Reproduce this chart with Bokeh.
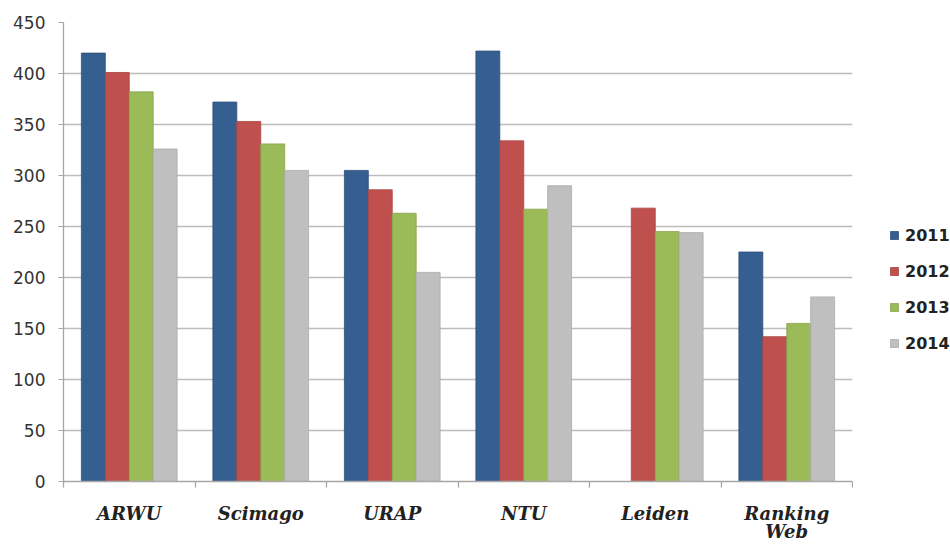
from bokeh.plotting import figure
from bokeh.layouts import row
from bokeh.models import (ColumnDataSource, Range1d, LinearAxis, FixedTicker, Legend, LegendItem)
from bokeh.embed import file_html
from bokeh.resources import INLINE

categories = ["ARWU", "Scimago", "URAP", "NTU", "Leiden", "Ranking\nWeb"]
years = ["2011", "2012", "2013", "2014"]
v2011 = [420, 372, 305, 422, float("nan"), 225]
v2012 = [401, 353, 286, 334, 268, 142]
v2013 = [382, 331, 263, 267, 245, 155]
v2014 = [326, 305, 205, 290, 244, 181]
colors = ["#365F91", "#C0504D", "#9BBB59", "#BFBFBF"]
edges = ["#2C4F7A", "#A84440", "#86A24B", "#ABABAB"]
y_ticks = [0, 50, 100, 150, 200, 250, 300, 350, 400, 450]

n = len(categories)
centers = [i + 0.5 for i in range(n)]
bounds = list(range(n + 1))
series = {"2011": v2011, "2012": v2012, "2013": v2013, "2014": v2014}

p = figure(width=853, height=545, x_range=Range1d(0, n), y_range=Range1d(0, 450),
           output_backend="svg", toolbar_location=None,
           x_axis_location=None, min_border_left=63, min_border_right=1,
           min_border_top=22, min_border_bottom=64)
p.outline_line_color = None
p.background_fill_color = "white"
p.border_fill_color = "white"

bw = 0.182
offsets = [-1.5 * bw, -0.5 * bw, 0.5 * bw, 1.5 * bw]
for yr, off, c, e in zip(years, offsets, colors, edges):
    src = ColumnDataSource(dict(x=[cx + off for cx in centers], top=series[yr]))
    p.vbar(x="x", top="top", width=bw, source=src,
           fill_color=c, line_color=e, line_width=0.8)

# y axis
yax = p.yaxis[0]
yax.ticker = FixedTicker(ticks=y_ticks)
yax.axis_line_color = "#A6A6A6"
yax.axis_line_width = 1.3
yax.major_tick_line_color = "#A6A6A6"
yax.major_tick_out = 5
yax.major_tick_in = 0
yax.minor_tick_line_color = None
yax.major_label_text_font = "DejaVu Sans"
yax.major_label_text_font_size = "17px"
yax.major_label_text_color = "#333333"
yax.major_label_standoff = 13

p.xgrid.grid_line_color = None
p.ygrid.ticker = FixedTicker(ticks=y_ticks)
p.ygrid.grid_line_color = "#BDBDBD"
p.ygrid.grid_line_width = 1.5

# category axis: labels at centres, small ticks at the category boundaries
cax = LinearAxis(ticker=FixedTicker(ticks=centers, minor_ticks=bounds))
cax.major_label_overrides = {c: lab for c, lab in zip(centers, categories)}
cax.axis_line_color = "#A6A6A6"
cax.axis_line_width = 1.3
cax.major_tick_line_color = None
cax.major_tick_out = 0
cax.major_tick_in = 0
cax.minor_tick_line_color = "#A6A6A6"
cax.minor_tick_line_width = 1.3
cax.minor_tick_out = 6
cax.minor_tick_in = 0
cax.major_label_text_font = "DejaVu Serif"
cax.major_label_text_font_style = "bold italic"
cax.major_label_text_font_size = "18px"
cax.major_label_text_line_height = 0.9
cax.major_label_text_color = "#222222"
cax.major_label_standoff = 15
p.add_layout(cax, "below")

# legend panel
pl = figure(width=97, height=545, x_range=Range1d(0, 1), y_range=Range1d(0, 1),
            output_backend="svg", toolbar_location=None, min_border=0,
            x_axis_location=None, y_axis_location=None)
pl.outline_line_color = None
pl.xgrid.visible = False
pl.ygrid.visible = False
items = []
nan = float("nan")
for yr, c, e in zip(years, colors, edges):
    r = pl.vbar(x=[nan], top=[nan], width=0.1, fill_color=c, line_color=e, line_width=0.8)
    items.append(LegendItem(label=yr, renderers=[r]))
legend = Legend(items=items, location=(36, 128), padding=0, margin=0, spacing=16,
                glyph_width=10, glyph_height=10, label_height=20, label_standoff=6,
                border_line_color=None, background_fill_alpha=0,
                label_text_font="DejaVu Sans", label_text_font_style="bold",
                label_text_font_size="16px", label_text_color="#222222")
pl.add_layout(legend)

layout = row(p, pl, spacing=0)
open("out.html", "w").write(file_html(layout, INLINE))
